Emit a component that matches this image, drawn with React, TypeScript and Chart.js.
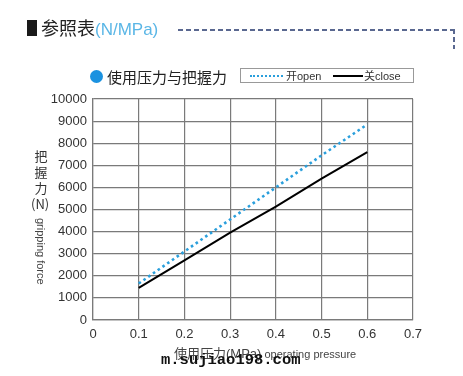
import React, { useEffect, useRef } from "react";
import { Chart, registerables } from "chart.js";

Chart.register(...registerables);

const pressures = [0.1, 0.2, 0.3, 0.4, 0.5, 0.6];
const openForce = [1650, 3100, 4550, 6000, 7450, 8850];
const closeForce = [1450, 2700, 3950, 5130, 6400, 7600];
const xTicks = [0, 0.1, 0.2, 0.3, 0.4, 0.5, 0.6, 0.7];
const yMax = 10000;
const yStep = 1000;

const BLUE = "#2a9fdc";
const GRID = "#7a7a7a";
const SANS = "'Liberation Sans', Arial, Helvetica, sans-serif";
const CJK = "'Noto Sans CJK SC', 'Noto Sans', sans-serif";
const DASH = "#5a6890";

export default function App() {
  const ref = useRef<HTMLCanvasElement | null>(null);

  useEffect(() => {
    if (!ref.current) return;
    const chart = new Chart(ref.current, {
      type: "line",
      data: {
        datasets: [
          {
            label: "开open",
            data: pressures.map((p, i) => ({ x: p, y: openForce[i] })),
            borderColor: BLUE,
            borderWidth: 2.6,
            borderDash: [2.6, 3.2],
            pointRadius: 0,
            fill: false,
          },
          {
            label: "关close",
            data: pressures.map((p, i) => ({ x: p, y: closeForce[i] })),
            borderColor: "#000000",
            borderWidth: 2,
            pointRadius: 0,
            fill: false,
          },
        ],
      },
      options: {
        animation: false,
        responsive: false,
        maintainAspectRatio: false,
        layout: { padding: { left: 0, top: 99, right: 50, bottom: 0 } },
        plugins: { legend: { display: false }, title: { display: false }, tooltip: { enabled: false } },
        scales: {
          x: {
            type: "linear",
            min: xTicks[0],
            max: xTicks[xTicks.length - 1],
            afterBuildTicks: (s: any) => {
              s.ticks = xTicks.map((v) => ({ value: v }));
            },
            afterFit: (s: any) => {
              s.height = 56;
            },
            grid: { color: GRID, lineWidth: 1.2, drawTicks: false },
            border: { color: GRID, width: 1.2 },
            ticks: {
              padding: 7,
              color: "#333",
              font: { family: SANS, size: 13 },
              callback: (v: any) => (Number(v) === 0 ? "0" : Number(v).toFixed(1)),
            },
          },
          y: {
            min: 0,
            max: yMax,
            afterFit: (s: any) => {
              s.width = 93;
            },
            grid: { color: GRID, lineWidth: 1.2, drawTicks: false },
            border: { color: GRID, width: 1.2 },
            ticks: {
              stepSize: yStep,
              padding: 6,
              color: "#333",
              font: { family: SANS, size: 13 },
              callback: (v: any) => String(Math.round(Number(v))),
            },
          },
        },
      },
    });
    return () => chart.destroy();
  }, []);

  const abs = (s: React.CSSProperties): React.CSSProperties => ({ position: "absolute", whiteSpace: "nowrap", ...s });

  return (
    <div style={{ position: "fixed", left: 0, top: 0, width: 463, height: 376, background: "#fff", overflow: "hidden" }}>
      <canvas ref={ref} width={463} height={376} style={{ position: "absolute", left: 0, top: 0, width: 463, height: 376 }} />

      {/* header */}
      <div style={abs({ left: 27, top: 20, width: 10, height: 16, background: "#1a1a1a" })} />
      <div style={abs({ left: 41, top: 15, fontFamily: CJK, fontSize: 18, lineHeight: "24px", color: "#222" })}>
        参照表<span style={{ color: "#5ab6e6", fontFamily: SANS, fontSize: 17 }}>(N/MPa)</span>
      </div>
      <div
        style={abs({
          left: 178,
          top: 29,
          width: 276,
          height: 2,
          background: `repeating-linear-gradient(to right, ${DASH} 0 5px, transparent 5px 8px)`,
        })}
      />
      <div
        style={abs({
          left: 453,
          top: 29,
          width: 2,
          height: 20,
          background: `repeating-linear-gradient(to bottom, ${DASH} 0 5px, transparent 5px 8px)`,
        })}
      />

      {/* subtitle */}
      <div style={abs({ left: 90, top: 70, width: 13, height: 13, borderRadius: "50%", background: "#1b92e0" })} />
      <div style={abs({ left: 107, top: 66, fontFamily: CJK, fontSize: 15, lineHeight: "22px", color: "#222" })}>
        使用压力与把握力
      </div>

      {/* legend */}
      <div style={abs({ left: 240, top: 68, width: 172, height: 13, border: "1px solid #999" })} />
      <div style={abs({ left: 250, top: 75, width: 33, height: 0, borderTop: `2.5px dotted ${BLUE}` })} />
      <div style={abs({ left: 286, top: 67, fontFamily: SANS, fontSize: 11, lineHeight: "16px", color: "#333" })}>
        <span style={{ fontFamily: CJK }}>开</span>open
      </div>
      <div style={abs({ left: 333, top: 75, width: 30, height: 2, background: "#000" })} />
      <div style={abs({ left: 364, top: 67, fontFamily: SANS, fontSize: 11, lineHeight: "16px", color: "#333" })}>
        <span style={{ fontFamily: CJK }}>关</span>close
      </div>

      {/* y axis title */}
      <div style={abs({ left: 33, top: 148, width: 16, textAlign: "center", fontFamily: CJK, fontSize: 13, lineHeight: "16px", color: "#333" })}>
        把<br />握<br />力
      </div>
      <div style={abs({ left: 31, top: 196, fontFamily: CJK, fontSize: 13, lineHeight: "16px", color: "#333" })}>(N)</div>
      <div
        style={abs({
          left: 41,
          top: 218,
          fontFamily: SANS,
          fontSize: 11,
          lineHeight: "12px",
          color: "#444",
          transformOrigin: "0 0",
          transform: "rotate(90deg) translate(0, -6px)",
        })}
      >
        gripping force
      </div>

      {/* x axis title */}
      <div style={abs({ left: 174, top: 344, fontFamily: CJK, fontSize: 13, lineHeight: "18px", color: "#444" })}>
        使用压力<span style={{ fontFamily: SANS }}>(MPa)</span>
        <span style={{ fontFamily: SANS, fontSize: 11 }}> operating pressure</span>
      </div>

      {/* watermark */}
      <div style={abs({ left: 161, top: 351, fontFamily: "'Liberation Mono', 'DejaVu Sans Mono', monospace", fontWeight: "bold", fontSize: 15.5, lineHeight: "18px", color: "#111" })}>
        m.sujiao198.com
      </div>
    </div>
  );
}
